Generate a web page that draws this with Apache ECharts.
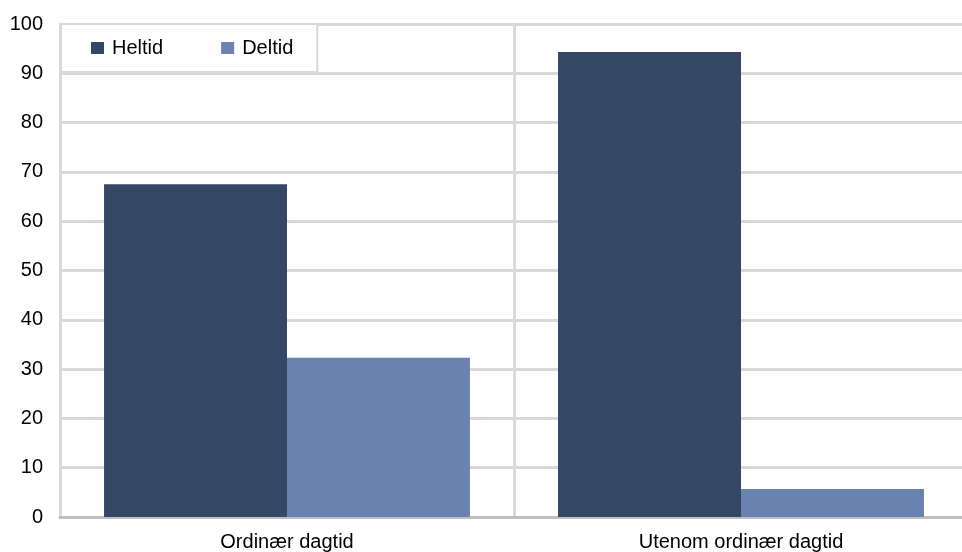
<!DOCTYPE html>
<html><head><meta charset="utf-8">
<script src="https://cdn.jsdelivr.net/npm/echarts@6/dist/echarts.min.js"></script>
<style>html,body{margin:0;padding:0;background:#fff}#c{width:962px;height:552px}</style>
</head><body><div id="c"></div>
<script>
const categories = ['Ordinær dagtid', 'Utenom ordinær dagtid'];
const heltid = [67.5, 94.3];
const deltid = [32.3, 5.7];
const seriesNames = ['Heltid', 'Deltid'];
const yTicks = {min: 0, max: 100, interval: 10};

const chart = echarts.init(document.getElementById('c'));
chart.setOption({
  animation: false,
  textStyle: {fontFamily: 'Liberation Sans, Arial, sans-serif'},
  grid: {left: 60, top: 24, bottom: 35, width: 908, containLabel: false, outerBoundsMode: 'none'},
  legend: {
    left: 61, top: 24,
    data: seriesNames,
    icon: 'rect', itemWidth: 13, itemHeight: 12, itemGap: 58,
    padding: [14, 24, 14, 30],
    backgroundColor: '#fff', borderColor: '#d9d9d9', borderWidth: 2,
    textStyle: {fontSize: 20, color: '#000', padding: [0, 0, 0, 3]}
  },
  xAxis: {
    type: 'category', data: categories,
    axisLine: {lineStyle: {color: '#bfbfbf', width: 3}},
    axisTick: {show: false},
    axisLabel: {fontSize: 20, color: '#000', margin: 15},
    splitLine: {show: true, lineStyle: {color: '#d9d9d9', width: 3}}
  },
  yAxis: {
    type: 'value', min: yTicks.min, max: yTicks.max, interval: yTicks.interval,
    axisLine: {show: true, lineStyle: {color: '#d9d9d9', width: 3}},
    axisTick: {show: false},
    axisLabel: {fontSize: 20, color: '#000', margin: 17},
    splitLine: {lineStyle: {color: '#d9d9d9', width: 3}}
  },
  series: [
    {name: seriesNames[0], type: 'bar', data: heltid, barGap: '0%', barCategoryGap: '19.4%', itemStyle: {color: '#344866'}},
    {name: seriesNames[1], type: 'bar', data: deltid, itemStyle: {color: '#6a82b0'}}
  ]
});
</script></body></html>
